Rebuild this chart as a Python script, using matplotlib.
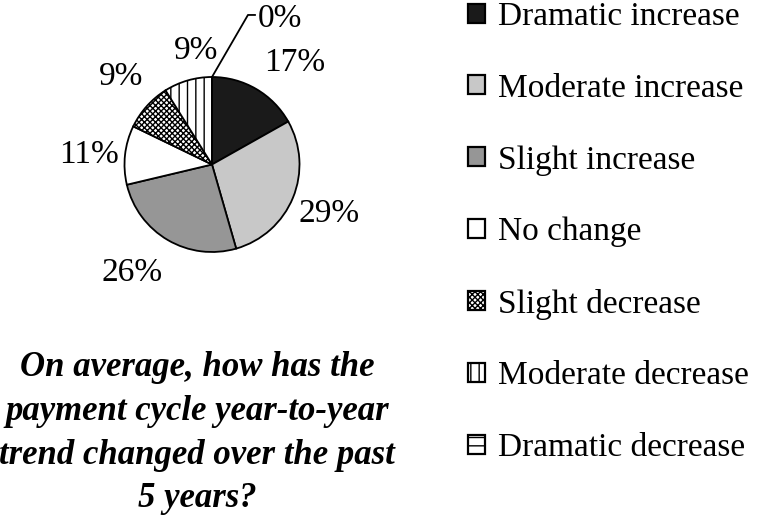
import matplotlib
matplotlib.use("Agg")
import matplotlib.pyplot as plt
import numpy as np

categories = ["Dramatic increase", "Moderate increase", "Slight increase", "No change",
              "Slight decrease", "Moderate decrease", "Dramatic decrease"]
values = [17, 29, 26, 11, 9, 9, 0]
pct_labels = ["17%", "29%", "26%", "11%", "9%", "9%", "0%"]
colors = ["#1a1a1a", "#c8c8c8", "#969696", "#ffffff", "#ffffff", "#ffffff", "#ffffff"]
hatches = [None, None, None, None, "xxxxxx", "||", "--"]
title = "On average, how has the\npayment cycle year-to-year\ntrend changed over the past\n5 years?"

# label layout (distance in radii, angle shift in degrees from wedge middle)
label_dist = [1.50, 1.45, 1.54, 1.41, 1.45, 1.31]
angle_shift = [-8.8, -0.4, -6.2, 1.7, -2.1, -8.0]

plt.rcParams["font.family"] = ["Liberation Serif", "DejaVu Serif"]
plt.rcParams["hatch.linewidth"] = 1.0

W, H = 757, 520
fig = plt.figure(figsize=(W / 100, H / 100), dpi=100)
cx, cy, r = 212, 164.5, 87.5
ax = fig.add_axes([(cx - 2 * r) / W, (H - cy - 2 * r) / H, 4 * r / W, 4 * r / H])

wedges, _ = ax.pie(values, colors=colors, startangle=90, counterclock=False,
                   wedgeprops=dict(edgecolor="black", linewidth=1.3))
ax.set_xlim(-2, 2)
ax.set_ylim(-2, 2)
ax.set_aspect("equal")
ax.axis("off")
for w, h in zip(wedges, hatches):
    if h:
        w.set_hatch(h)

for w, lab, d, s in zip(wedges[:6], pct_labels[:6], label_dist, angle_shift):
    ang = np.deg2rad((w.theta1 + w.theta2) / 2 + s)
    ax.text(d * np.cos(ang), d * np.sin(ang), lab, fontsize=24, ha="center", va="center")

# 0% leader label
ax.plot([0, 0.411, 0.491], [1.0, 1.709, 1.709], color="black", lw=1.3, clip_on=False)
ax.text(0.526, 1.66, pct_labels[-1], fontsize=24, ha="left", va="center")

leg = fig.legend(wedges, categories, loc="upper left",
                 bbox_to_anchor=(455 / W, 1 - (-12) / H), frameon=False,
                 fontsize=24, handlelength=0.5, handleheight=0.5,
                 handletextpad=0.4, labelspacing=1.24, borderaxespad=0)
for p in leg.get_patches():
    p.set_linewidth(1.6)

fig.text(197 / W, 1 - 351 / H, title, fontsize=25, fontweight="bold", fontstyle="italic",
         ha="center", va="top", linespacing=1.43)

fig.savefig("out.png", dpi=100)
